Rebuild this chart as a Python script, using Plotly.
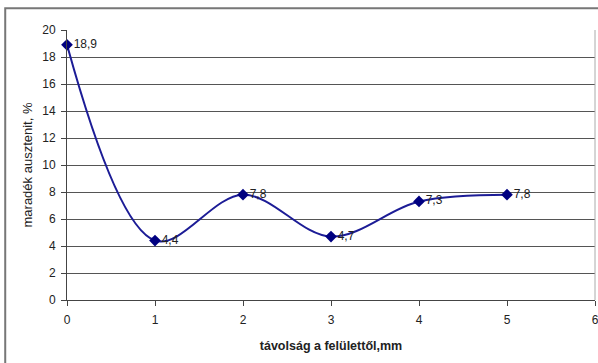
import plotly.graph_objects as go

x_vals = [0, 1, 2, 3, 4, 5]
y_vals = [18.9, 4.4, 7.8, 4.7, 7.3, 7.8]
labels = ["18,9", "4,4", "7,8", "4,7", "7,3", "7,8"]
x_ticks = [0, 1, 2, 3, 4, 5, 6]
y_ticks = [0, 2, 4, 6, 8, 10, 12, 14, 16, 18, 20]

fig = go.Figure()
fig.add_trace(go.Scatter(
    x=x_vals, y=y_vals, text=labels,
    mode="lines+markers+text",
    line=dict(color="#1c1c96", width=2, shape="spline", smoothing=1.0),
    marker=dict(symbol="diamond", size=9, color="#000080"),
    textposition="middle right",
    textfont=dict(family="Liberation Sans, Arial", size=12, color="#222"),
    cliponaxis=False,
    hoverinfo="skip",
))

fig.update_layout(
    width=598, height=363,
    margin=dict(l=67, r=3, t=30, b=63, autoexpand=False),
    paper_bgcolor="white", plot_bgcolor="white",
    showlegend=False,
    font=dict(family="Liberation Sans, Arial", size=12, color="#222"),
    xaxis=dict(
        range=[0, 6], tickvals=x_ticks, showgrid=False, zeroline=False,
        showline=True, linecolor="#444", linewidth=1,
        ticks="outside", ticklen=5, tickcolor="#444",
        ticklabelstandoff=4, ticklabeloverflow="allow", automargin=False,
        title=dict(text="<b>távolság a felülettől,mm</b>", font=dict(size=12.5), standoff=14),
        mirror=False,
    ),
    yaxis=dict(
        range=[0, 20], tickvals=y_ticks, showgrid=True, gridcolor="#555", gridwidth=1,
        zeroline=False, showline=True, linecolor="#444", linewidth=1,
        ticks="outside", ticklen=5, tickcolor="#444",
        ticklabelstandoff=3, automargin=False,
        title=dict(text="maradék ausztenit, %", font=dict(size=13), standoff=6),
    ),
    shapes=[
        dict(type="line", xref="paper", yref="paper", x0=1, x1=1, y0=0, y1=1,
             line=dict(color="#aaa", width=1)),
        dict(type="rect", xref="paper", yref="paper", x0=-0.117, x1=1.02, y0=-0.3, y1=1.081,
             line=dict(color="#777", width=2), fillcolor="rgba(0,0,0,0)", layer="below"),
    ],
)

fig.write_html("out.html")
